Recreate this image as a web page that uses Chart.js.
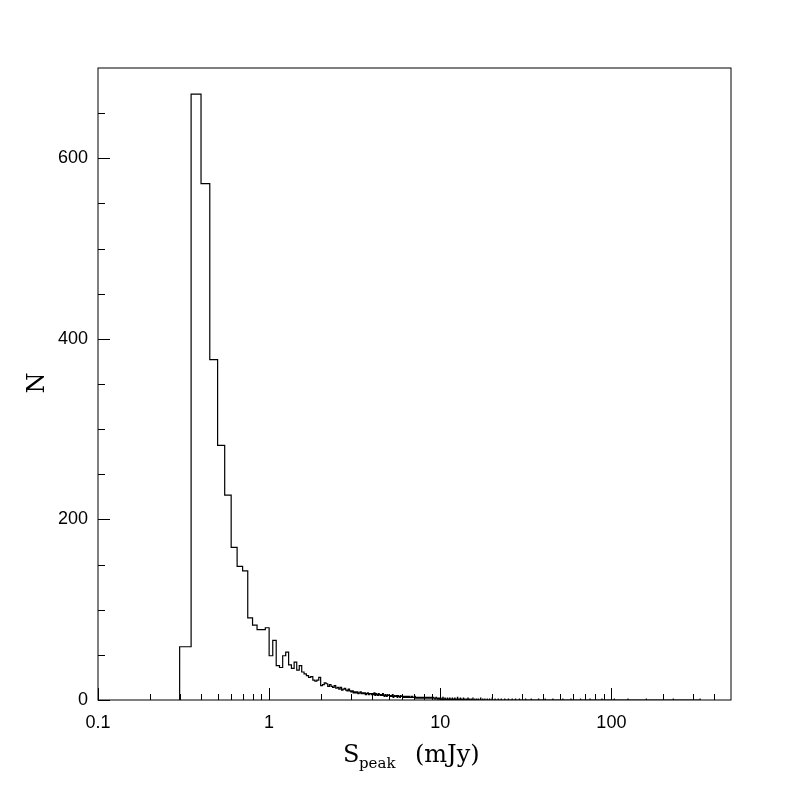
<!DOCTYPE html>
<html>
<head>
<meta charset="utf-8">
<script src="https://cdn.jsdelivr.net/npm/chart.js@4.4.1/dist/chart.umd.min.js"></script>
<style>
  body { margin: 0; background: #fff; }
  #wrap { width: 797px; height: 797px; }
</style>
</head>
<body>
<div id="wrap"><canvas id="histChart" width="797" height="797"></canvas></div>
<script>
// Histogram of peak flux, linear bins of 0.05 mJy starting at 0.30 mJy
const binStart = 0.30;
const binWidth = 0.05;
const counts = [
    59, 671, 572, 377, 282, 227, 169, 148, 143, 91,
    83, 78, 78, 80, 49, 66, 38, 36, 49, 53,
    39, 35, 42, 33, 38, 31, 29, 27, 25, 26,
    22, 21, 22, 25, 16, 17, 19, 18, 15, 17,
    15, 14, 16, 13, 14, 12, 14, 11, 12, 13,
    11, 10, 12, 10,
    // 3.00 - 3.95
    9, 10, 8, 9, 8, 9, 7, 8, 9, 7, 8, 7, 8, 6, 7, 8, 6, 7, 7, 6,
    // 4.00 - 4.95
    7, 6, 8, 5, 7, 6, 5, 7, 6, 5, 6, 5, 7, 5, 4, 6, 5, 4, 6, 5,
    // 5.00 - 5.95
    5, 5, 4, 5, 4, 6, 3, 4, 5, 4, 4, 5, 3, 5, 4, 4, 3, 5, 4, 4,
    // 6.00 - 6.95
    4, 4, 3, 4, 4, 3, 3, 4, 3, 4, 3, 4, 3, 3, 3, 4, 3, 4, 3, 3,
    // 7.00 - 7.95
    3, 3, 4, 2, 3, 3, 2, 3, 3, 2, 3, 3, 2, 3, 2, 3, 2, 3, 3, 2,
    // 8.00 - 8.95
    2, 3, 3, 2, 2, 3, 2, 3, 2, 2, 3, 2, 2, 3, 2, 2, 2, 3, 2, 2,
    // 9.00 - 9.95
    2, 2, 3, 2, 2, 2, 1, 2, 2, 3, 2, 2, 1, 2, 2, 2, 1, 2, 2, 2
];
// sparse tail above 10 mJy: [bin lower edge, count]
const tailBins = [
    [10.05, 2], [10.20, 1], [10.35, 3], [10.50, 1], [10.65, 2], [10.85, 1],
    [11.00, 2], [11.20, 1], [11.35, 2], [11.55, 1], [11.75, 2], [11.95, 1],
    [12.15, 2], [12.40, 1], [12.60, 3], [12.85, 1], [13.10, 2], [13.35, 1],
    [13.65, 2], [13.90, 1], [14.20, 1], [14.50, 2], [14.80, 1], [15.15, 1],
    [15.50, 2], [15.90, 1], [16.30, 1], [16.70, 1], [17.20, 2], [17.70, 1],
    [18.20, 1], [18.80, 1], [19.40, 1], [20.10, 2], [20.90, 1], [21.80, 1],
    [22.70, 1], [23.80, 1], [25.00, 1], [26.30, 1], [27.50, 1], [29.00, 1],
    [31.50, 1], [34.00, 1], [37.50, 1], [41.00, 1], [45.50, 1], [52.00, 1],
    [58.00, 1], [66.00, 1], [75.00, 1], [88.00, 1], [104.00, 1], [125.00, 1],
    [160.00, 1], [230.00, 1], [330.00, 1]
];

const xMajorTicks = [0.1, 1, 10, 100];
const xMinorTicks = [0.2, 0.3, 0.4, 0.5, 0.6, 0.7, 0.8, 0.9,
                     2, 3, 4, 5, 6, 7, 8, 9,
                     20, 30, 40, 50, 60, 70, 80, 90,
                     200, 300, 400];
const yMajorTicks = [0, 200, 400, 600];
const yMinorTicks = [50, 100, 150, 250, 300, 350, 450, 500, 550, 650];

// build step points (left edge, count)
const r2 = v => Math.round(v * 100) / 100;
const points = [{ x: binStart, y: 0 }];
counts.forEach((c, i) => points.push({ x: r2(binStart + i * binWidth), y: c }));
points.push({ x: r2(binStart + counts.length * binWidth), y: 0 });
tailBins.forEach(([lo, n]) => {
    points.push({ x: lo, y: n });
    points.push({ x: r2(lo + binWidth), y: 0 });
});

// frame, inward ticks and axis titles
const framePlugin = {
    id: 'frame',
    afterDraw(chart) {
        const ctx = chart.ctx;
        const a = chart.chartArea;
        const xs = chart.scales.x, ys = chart.scales.y;
        ctx.save();
        ctx.strokeStyle = '#000';
        ctx.lineWidth = 1;
        ctx.strokeRect(a.left, a.top, a.right - a.left, a.bottom - a.top);
        ctx.beginPath();
        xMajorTicks.forEach(v => {
            const px = Math.round(xs.getPixelForValue(v)) + 0.5;
            ctx.moveTo(px, a.bottom); ctx.lineTo(px, a.bottom - 12);
        });
        xMinorTicks.forEach(v => {
            const px = Math.round(xs.getPixelForValue(v)) + 0.5;
            ctx.moveTo(px, a.bottom); ctx.lineTo(px, a.bottom - 6);
        });
        yMajorTicks.forEach(v => {
            const py = Math.round(ys.getPixelForValue(v)) + 0.5;
            ctx.moveTo(a.left, py); ctx.lineTo(a.left + 12, py);
        });
        yMinorTicks.forEach(v => {
            const py = Math.round(ys.getPixelForValue(v)) + 0.5;
            ctx.moveTo(a.left, py); ctx.lineTo(a.left + 7, py);
        });
        ctx.stroke();

        ctx.fillStyle = '#000';
        ctx.textBaseline = 'alphabetic';
        ctx.textAlign = 'left';
        ctx.font = '24px "DejaVu Serif"';
        ctx.fillText('S', 343, 762);
        ctx.fillText('(mJy)', 415, 762);
        ctx.font = '15px "DejaVu Serif"';
        ctx.fillText('peak', 359, 768);

        ctx.translate(38, 383);
        ctx.rotate(-Math.PI / 2);
        ctx.textAlign = 'center';
        ctx.textBaseline = 'middle';
        ctx.font = '24px "DejaVu Serif"';
        ctx.fillText('N', 0, 0);
        ctx.restore();
    }
};

const tickFont = { family: '"Liberation Sans", Arial, Helvetica, sans-serif', size: 18 };

new Chart(document.getElementById('histChart').getContext('2d'), {
    type: 'line',
    data: {
        datasets: [{
            data: points,
            stepped: true,
            borderColor: '#000',
            borderWidth: 1.2,
            pointRadius: 0,
            fill: false
        }]
    },
    options: {
        responsive: false,
        animation: false,
        events: [],
        layout: { padding: { top: 68, right: 66, left: 0, bottom: 0 } },
        plugins: {
            legend: { display: false },
            tooltip: { enabled: false }
        },
        scales: {
            x: {
                type: 'logarithmic',
                min: 0.1,
                max: 500,
                grid: { display: false, drawTicks: false },
                border: { display: false },
                afterBuildTicks: s => { s.ticks = xMajorTicks.map(v => ({ value: v })); },
                afterFit: s => { s.height = 97; },
                ticks: {
                    color: '#000',
                    font: tickFont,
                    padding: 12,
                    maxRotation: 0,
                    autoSkip: false,
                    callback: v => String(v)
                }
            },
            y: {
                type: 'linear',
                min: 0,
                max: 700,
                grid: { display: false, drawTicks: false },
                border: { display: false },
                afterBuildTicks: s => { s.ticks = yMajorTicks.map(v => ({ value: v })); },
                afterFit: s => { s.width = 98; },
                ticks: {
                    color: '#000',
                    font: tickFont,
                    padding: 10,
                    callback: v => String(v)
                }
            }
        }
    },
    plugins: [framePlugin]
});
</script>
</body>
</html>
